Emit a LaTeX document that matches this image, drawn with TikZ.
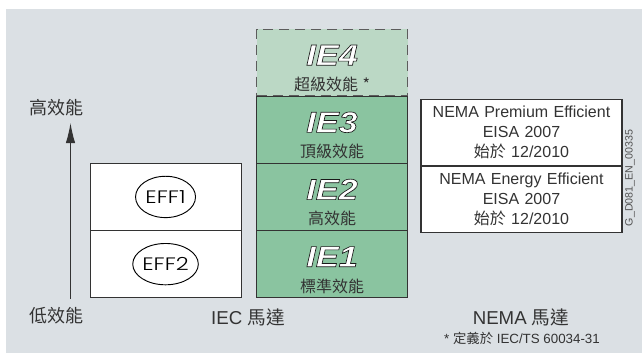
\documentclass[tikz,border=0pt]{standalone}
\usepackage{fontspec}
\setmainfont{Liberation Sans}
\newfontfamily\cjkfont{Noto Sans CJK TC}
\newfontfamily\iefont[FakeStretch=1.17]{Liberation Sans Bold Italic}
\newfontfamily\efffont[FakeStretch=1.25]{Poppins Light}
\usetikzlibrary{matrix,arrows.meta,shapes.geometric}
\definecolor{panelgray}{HTML}{DBE0E4}
\definecolor{iegreen}{HTML}{8AC4A0}
\definecolor{iepale}{HTML}{BBD8C5}
\definecolor{inkgray}{HTML}{333333}
\newcommand{\ietext}[2]{{\fontsize{22pt}{22pt}\iefont\rule{0pt}{24pt}\special{pdf:code q 2 Tr 0.5 w 1 g 0.1 G}#1\special{pdf:code Q}}\\[7pt]{\fontsize{12pt}{13pt}\cjkfont #2}}
\tikzset{
table/.style={
  matrix of nodes,
  inner sep=0pt,
  outer sep=0pt,
  row sep=-\pgflinewidth,
  column sep=-\pgflinewidth,
  nodes={rectangle,draw=inkgray,line width=0.8pt,minimum height=50pt,inner sep=0pt,outer sep=0pt,align=center,text=inkgray,text width=113.25pt},
  nodes in empty cells
},
iecol/.style={nodes={fill=iegreen}},
effcol/.style={nodes={fill=white}},
nemacol/.style={nodes={fill=white,text width=150.75pt,font=\fontsize{12pt}{15pt}\selectfont}},
palecell/.style={fill=iepale,draw=inkgray!80,dashed,dash pattern=on 7.5pt off 4.5pt},
efflogo/.style={ellipse,draw=black,line width=0.7pt,minimum width=45pt,minimum height=31pt,inner sep=0pt,font=\fontsize{13.5pt}{14pt}\efffont,text=black},
caption/.style={text=inkgray,font=\fontsize{14pt}{16pt}\selectfont,inner sep=0pt},
}
\begin{document}
\begin{tikzpicture}[x=0.75pt,y=-0.75pt]
\useasboundingbox (0,0) rectangle (642,353);
\fill[panelgray] (6,9) rectangle (642,353);
% the three columns
\matrix (eff) [table,effcol,anchor=south west] at (89.5,298) {
{} \\
{} \\
};
\matrix (ie) [table,iecol,anchor=south west] at (256,298) {
|[palecell]| {\ietext{IE4}{超級效能 *}} \\
{\ietext{IE3}{頂級效能}} \\
{\ietext{IE2}{高效能}} \\
{\ietext{IE1}{標準效能}} \\
};
\matrix (nema) [table,nemacol,anchor=north east] at (622.5,98.5) {
{NEMA Premium Efficient\\EISA 2007\\{\cjkfont 始於} 12/2010} \\
{NEMA Energy Efficient\\EISA 2007\\{\cjkfont 始於} 12/2010} \\
};
% the logos
\node[efflogo] (effone) at (eff-1-1) {EFF1};
\node[efflogo] (efftwo) at (eff-2-1) {EFF2};
% the axis
\node[caption,font=\fontsize{13.5pt}{14pt}\cjkfont] (high) at (56.5,108) {高效能};
\node[caption,font=\fontsize{13.5pt}{14pt}\cjkfont] (low) at (56.5,316) {低效能};
\coordinate (axistop) at (70.5,123);
\coordinate (axisbot) at (70.5,299);
\draw[-{Latex[length=15pt,width=7pt]},line width=0.7pt,inkgray] (axisbot) -- (axistop);
% the captions
\node[caption] (ieccap) at (248,317) {IEC {\cjkfont 馬達}};
\node[caption] (nemacap) at (521,317) {NEMA {\cjkfont 馬達}};
\node[caption,font=\fontsize{10pt}{11pt}\selectfont] (note) at (522,338) {* {\cjkfont 定義於} IEC/TS 60034-31};
\node[caption,font=\fontsize{8pt}{9pt}\selectfont,rotate=90,text=inkgray!85] (tag) at (630,178) {G\_D081\_EN\_00335};
\end{tikzpicture}
\end{document}
